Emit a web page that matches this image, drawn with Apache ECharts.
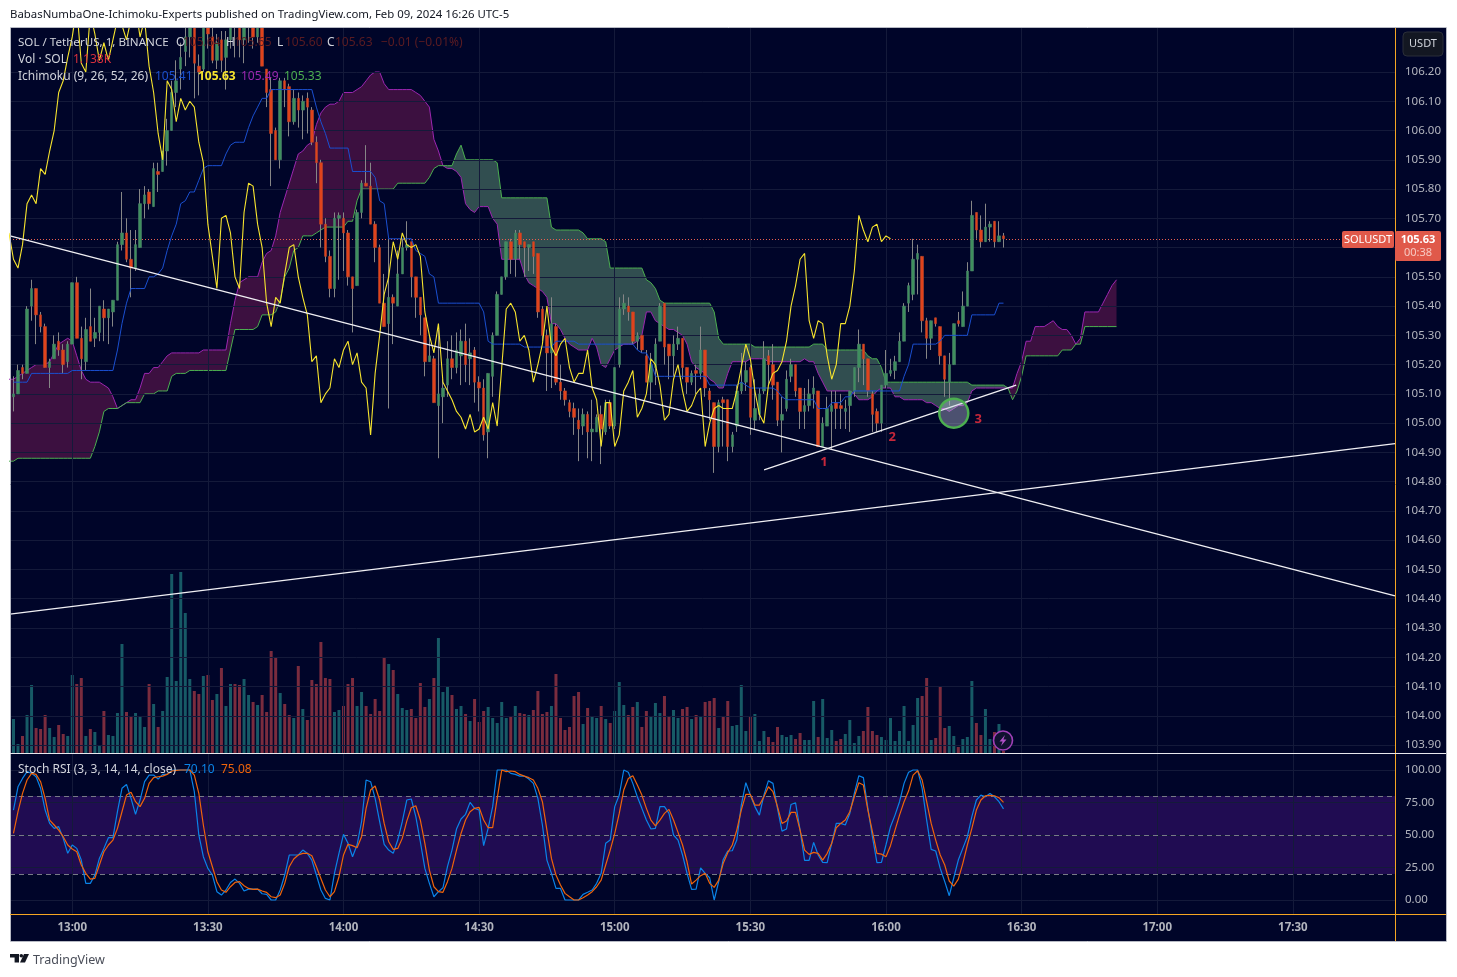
<!DOCTYPE html>
<html><head><meta charset="utf-8">
<style>html,body{margin:0;padding:0;background:#fff}#c{width:1457px;height:977px}</style>
<script src="https://cdn.jsdelivr.net/npm/echarts@6/dist/echarts.min.js"></script>
</head><body><div id="c"></div>
<script>
const firstMinute = 767; // 12:47, minutes after midnight
const axisStart = 766.23, axisEnd = 1072.6;
const timeTicks = [780,810,840,870,900,930,960,990,1020,1050];
const priceTicks = [103.9,104,104.1,104.2,104.3,104.4,104.5,104.6,104.7,104.8,104.9,105,105.1,105.2,105.3,105.4,105.5,105.6,105.7,105.8,105.9,106,106.1,106.2];
const stochTicks = [0,25,50,75,100];
const lastPrice = 105.63;
const opens = [
105.09,105.10,105.19,105.17,105.40,105.46,105.37,105.33,105.19,105.22,
105.28,105.25,105.21,105.27,105.48,105.29,105.21,105.33,105.29,105.31,
105.39,105.36,105.38,105.42,105.61,105.65,105.56,105.53,105.60,105.75,
105.79,105.74,105.86,105.86,105.93,106.00,106.13,106.21,106.27,106.32,
106.42,106.22,106.21,106.40,106.32,106.24,106.31,106.25,106.31,106.38,
106.36,106.31,106.38,106.42,106.32,106.38,106.21,106.14,106.00,105.90,
106.17,106.15,106.03,106.11,106.07,106.11,106.07,105.96,105.89,105.68,
105.57,105.46,105.70,105.70,105.65,105.50,105.47,105.72,105.82,105.81,
105.68,105.60,105.41,105.34,105.43,105.40,105.51,105.60,105.62,105.50,
105.43,105.36,105.21,105.22,105.06,105.09,105.13,105.22,105.19,105.23,
105.28,105.22,105.25,105.14,105.12,104.97,105.16,105.30,105.44,105.50,
105.62,105.56,105.65,105.62,105.60,105.62,105.58,105.39,105.30,105.24,
105.33,105.14,105.11,105.07,105.05,105.01,104.99,105.03,104.97,104.97,
105.03,104.97,105.07,104.99,105.20,105.39,105.40,105.38,105.28,105.30,
105.23,105.14,105.19,105.28,105.41,105.27,105.23,105.27,105.29,105.19,
105.14,105.18,105.17,105.25,105.11,105.07,104.92,105.08,105.08,104.92,
104.99,105.11,105.14,105.19,105.01,105.03,105.11,105.23,105.20,105.14,
105.01,105.05,105.16,105.20,105.12,105.04,105.06,105.10,105.11,104.92,
104.99,105.04,105.07,105.06,105.04,105.06,105.11,105.19,105.27,105.22,
105.10,105.04,105.00,105.13,105.17,105.18,105.21,105.28,105.41,105.44,
105.56,105.57,105.35,105.29,105.36,105.33,105.23,105.14,105.20,105.35,
105.33,105.40,105.52,105.72,105.66,105.62,105.67,105.69,105.62,105.64];
const closes = [
105.10,105.18,105.17,105.39,105.46,105.37,105.33,105.19,105.21,105.27,
105.25,105.20,105.27,105.48,105.29,105.22,105.32,105.28,105.31,105.40,
105.36,105.39,105.42,105.61,105.65,105.56,105.53,105.61,105.75,105.78,
105.75,105.87,105.85,105.93,106.00,106.13,106.17,106.25,106.32,106.42,
106.23,106.20,106.40,106.33,106.24,106.30,106.24,106.31,106.38,106.36,
106.31,106.38,106.42,106.32,106.38,106.22,106.13,105.99,105.90,106.17,
106.14,106.03,106.11,106.07,106.10,106.08,105.96,105.89,105.68,105.57,
105.46,105.70,105.71,105.65,105.50,105.46,105.72,105.82,105.81,105.68,
105.60,105.41,105.33,105.43,105.41,105.51,105.60,105.61,105.50,105.43,
105.37,105.21,105.23,105.07,105.10,105.12,105.22,105.19,105.25,105.28,
105.20,105.24,105.14,105.12,104.96,105.17,105.30,105.44,105.50,105.62,
105.56,105.65,105.61,105.60,105.61,105.57,105.38,105.30,105.24,105.34,
105.14,105.11,105.08,105.04,105.02,104.98,105.03,104.97,104.98,105.02,
104.98,105.07,104.99,105.19,105.39,105.41,105.38,105.28,105.30,105.25,
105.14,105.20,105.27,105.40,105.26,105.23,105.27,105.29,105.19,105.14,
105.17,105.17,105.25,105.12,105.08,104.92,105.07,105.07,104.92,104.96,
105.11,105.14,105.18,105.02,105.05,105.10,105.22,105.20,105.13,105.01,
105.03,105.15,105.20,105.11,105.04,105.06,105.10,105.12,104.92,105.00,
105.05,105.06,105.05,105.05,105.05,105.11,105.19,105.27,105.22,105.11,
105.03,105.00,105.13,105.17,105.18,105.21,105.28,105.40,105.47,105.56,
105.58,105.35,105.29,105.35,105.34,105.23,105.15,105.20,105.34,105.34,
105.40,105.52,105.71,105.66,105.62,105.67,105.68,105.62,105.64,105.63];
const highs = [
105.16,105.20,105.20,105.40,105.49,105.46,105.38,105.34,105.22,105.30,
105.31,105.27,105.28,105.48,105.50,105.33,105.36,105.46,105.36,105.40,
105.42,105.39,105.42,105.62,105.79,105.70,105.66,105.66,105.80,105.81,
105.80,105.89,105.89,105.93,106.04,106.17,106.24,106.30,106.40,106.48,
106.45,106.26,106.46,106.43,106.36,106.33,106.34,106.34,106.42,106.43,
106.40,106.42,106.46,106.44,106.41,106.42,106.21,106.18,106.01,106.18,
106.18,106.16,106.14,106.13,106.12,106.13,106.08,105.98,105.90,105.70,
105.59,105.72,105.72,105.72,105.66,105.50,105.73,105.83,105.95,105.89,
105.69,105.61,105.51,105.63,105.44,105.59,105.63,105.69,105.62,105.50,
105.43,105.36,105.30,105.23,105.32,105.15,105.28,105.30,105.31,105.32,
105.34,105.29,105.26,105.16,105.15,105.17,105.31,105.45,105.50,105.62,
105.63,105.66,105.66,105.62,105.61,105.62,105.58,105.40,105.32,105.43,
105.34,105.20,105.12,105.08,105.07,105.05,105.05,105.04,105.08,105.03,
105.06,105.08,105.08,105.19,105.43,105.44,105.43,105.38,105.31,105.30,
105.25,105.24,105.29,105.41,105.41,105.27,105.30,105.33,105.29,105.19,
105.18,105.20,105.33,105.25,105.12,105.07,105.08,105.09,105.08,104.97,
105.13,105.24,105.21,105.20,105.15,105.12,105.28,105.25,105.27,105.14,
105.09,105.18,105.22,105.20,105.12,105.12,105.15,105.16,105.11,105.02,
105.09,105.11,105.11,105.10,105.08,105.11,105.19,105.32,105.27,105.22,
105.11,105.05,105.13,105.25,105.22,105.23,105.31,105.41,105.48,105.63,
105.61,105.57,105.36,105.35,105.36,105.33,105.23,105.24,105.34,105.38,
105.45,105.55,105.76,105.72,105.71,105.75,105.69,105.69,105.69,105.65];
const lows = [
105.04,105.10,105.15,105.17,105.35,105.27,105.31,105.19,105.12,105.22,
105.23,105.17,105.19,105.27,105.29,105.15,105.18,105.28,105.26,105.28,
105.28,105.27,105.33,105.42,105.59,105.55,105.43,105.52,105.60,105.70,
105.73,105.74,105.79,105.86,105.88,106.00,106.08,106.14,106.22,106.25,
106.11,106.12,106.20,106.28,106.23,106.21,106.20,106.14,106.28,106.25,
106.25,106.23,106.30,106.28,106.30,106.22,106.08,105.81,105.90,105.87,
106.08,105.98,106.02,106.01,105.97,105.99,105.95,105.82,105.60,105.55,
105.43,105.43,105.49,105.52,105.47,105.31,105.47,105.70,105.81,105.68,
105.55,105.41,105.33,105.05,105.27,105.40,105.51,105.59,105.43,105.36,
105.30,105.16,105.21,105.07,104.88,105.00,105.09,105.15,105.17,105.13,
105.14,105.13,105.07,105.04,104.94,104.88,105.09,105.30,105.44,105.49,
105.51,105.50,105.56,105.50,105.52,105.51,105.36,105.28,105.11,105.12,
105.13,105.08,105.06,105.02,104.96,104.87,104.96,104.88,104.87,104.97,
104.86,104.96,104.98,104.98,105.19,105.37,105.35,105.27,105.25,105.24,
105.14,105.08,105.13,105.28,105.20,105.15,105.16,105.25,105.15,105.10,
105.13,105.10,105.15,105.09,105.01,104.83,104.90,104.92,104.87,104.90,
104.97,105.10,105.11,104.96,104.98,105.01,105.10,105.13,105.08,104.99,
104.90,105.04,105.14,105.09,104.98,104.98,105.04,105.05,104.92,104.92,
104.99,104.91,104.98,104.98,104.98,104.97,105.09,105.14,105.13,105.09,
104.97,104.97,104.97,105.12,105.16,105.15,105.21,105.28,105.38,105.42,
105.44,105.31,105.22,105.25,105.33,105.20,105.09,105.06,105.20,105.33,
105.33,105.40,105.52,105.63,105.60,105.62,105.62,105.60,105.62,105.60];
const volumes = [
34,9,17,38,68,25,24,38,25,16,28,19,17,78,69,75,17,24,21,8,
42,18,17,40,109,41,37,40,36,26,69,49,26,42,76,179,72,181,140,74,
62,59,77,78,53,59,85,47,69,69,68,74,58,51,48,58,41,102,95,60,
49,38,35,87,44,33,73,69,111,75,74,41,43,47,69,75,47,61,47,39,
54,42,95,89,83,59,45,43,44,35,70,46,54,75,115,61,66,58,44,47,
39,32,54,31,42,46,35,30,51,35,37,47,40,39,38,43,62,39,41,47,
79,35,23,26,57,61,29,45,36,35,47,34,30,42,71,48,38,46,51,26,
42,36,50,40,57,36,43,35,44,46,34,38,37,51,52,55,25,37,52,27,
28,68,22,36,39,12,22,16,11,26,18,16,18,14,20,13,13,52,16,54,
15,23,12,14,19,33,10,17,22,46,22,18,16,13,35,12,22,47,12,28,
55,57,75,13,15,67,25,27,17,6,14,16,72,30,18,44,14,21,29,2];
const kijun = [
105.14,105.14,105.14,105.14,105.17,105.17,105.17,105.17,105.17,105.17,
105.17,105.17,105.17,105.18,105.18,105.18,105.18,105.18,105.18,105.18,
105.18,105.18,105.18,105.25,105.34,105.41,105.46,105.46,105.46,105.46,
105.50,105.50,105.51,105.53,105.59,105.64,105.68,105.75,105.76,105.79,
105.79,105.83,105.87,105.88,105.88,105.88,105.88,105.92,105.95,105.96,
105.96,105.96,106.01,106.05,106.08,106.11,106.11,106.14,106.14,106.14,
106.14,106.14,106.14,106.14,106.14,106.14,106.14,106.08,106.03,105.99,
105.94,105.94,105.94,105.94,105.94,105.86,105.86,105.86,105.86,105.86,
105.84,105.76,105.75,105.63,105.63,105.63,105.63,105.63,105.63,105.59,
105.58,105.57,105.51,105.50,105.41,105.41,105.41,105.41,105.41,105.41,
105.41,105.41,105.41,105.41,105.38,105.28,105.27,105.27,105.27,105.27,
105.27,105.27,105.27,105.26,105.26,105.26,105.26,105.26,105.26,105.26,
105.28,105.28,105.28,105.28,105.28,105.27,105.27,105.27,105.27,105.27,
105.27,105.27,105.27,105.27,105.27,105.27,105.27,105.27,105.25,105.24,
105.24,105.21,105.16,105.16,105.16,105.16,105.16,105.16,105.16,105.16,
105.16,105.16,105.16,105.16,105.13,105.13,105.13,105.13,105.13,105.13,
105.13,105.14,105.13,105.12,105.12,105.12,105.12,105.12,105.12,105.11,
105.09,105.08,105.08,105.08,105.08,105.08,105.08,105.08,105.05,105.05,
105.05,105.07,105.07,105.07,105.09,105.09,105.11,105.11,105.11,105.11,
105.11,105.11,105.11,105.11,105.11,105.11,105.11,105.16,105.20,105.27,
105.27,105.27,105.27,105.27,105.27,105.28,105.30,105.30,105.30,105.30,
105.30,105.30,105.37,105.37,105.37,105.37,105.37,105.37,105.41,105.41];
const cloudStart = 766; // one minute before the first bar
const senkouA = [105.15,
105.15,105.16,105.17,105.18,105.19,105.20,105.20,105.20,105.21,105.24,
105.27,105.28,105.29,105.28,105.23,105.18,105.15,105.14,105.14,105.14,
105.13,105.12,105.09,105.05,105.06,105.07,105.08,105.08,105.12,105.17,
105.17,105.19,105.19,105.21,105.23,105.24,105.24,105.24,105.24,105.24,
105.24,105.24,105.25,105.25,105.25,105.25,105.25,105.25,105.34,105.42,
105.48,105.49,105.50,105.50,105.50,105.55,105.58,105.59,105.64,105.72,
105.77,105.82,105.87,105.92,105.93,105.95,105.96,106.02,106.06,106.08,
106.09,106.09,106.10,106.13,106.13,106.13,106.14,106.15,106.17,106.19,
106.20,106.20,106.16,106.14,106.14,106.14,106.14,106.14,106.14,106.13,
106.12,106.10,106.08,105.97,105.93,105.88,105.87,105.87,105.86,105.84,
105.75,105.73,105.72,105.74,105.74,105.74,105.70,105.68,105.56,105.56,
105.56,105.56,105.56,105.51,105.48,105.47,105.46,105.45,105.43,105.34,
105.34,105.32,105.29,105.27,105.26,105.25,105.25,105.25,105.29,105.26,
105.20,105.19,105.22,105.25,105.26,105.27,105.27,105.27,105.28,105.30,
105.38,105.38,105.35,105.34,105.33,105.32,105.32,105.31,105.30,105.27,
105.21,105.19,105.18,105.17,105.15,105.14,105.12,105.12,105.17,105.21,
105.21,105.21,105.21,105.22,105.22,105.22,105.22,105.21,105.21,105.21,
105.21,105.21,105.21,105.21,105.21,105.22,105.21,105.21,105.17,105.14,
105.11,105.11,105.11,105.11,105.11,105.11,105.10,105.08,105.08,105.08,
105.09,105.11,105.12,105.12,105.12,105.09,105.09,105.08,105.08,105.08,
105.08,105.08,105.07,105.07,105.06,105.05,105.05,105.04,105.05,105.06,
105.06,105.07,105.11,105.12,105.12,105.12,105.12,105.12,105.12,105.12,
105.12,105.12,105.17,105.21,105.28,105.28,105.33,105.33,105.33,105.34,
105.35,105.33,105.32,105.32,105.30,105.27,105.29,105.38,105.38,105.38,
105.38,105.41,105.44,105.47,105.49];
const senkouB = [104.87,
104.87,104.88,104.88,104.88,104.88,104.88,104.88,104.88,104.88,104.88,
104.88,104.88,104.88,104.88,104.88,104.88,104.88,104.88,104.92,104.97,
105.04,105.05,105.05,105.05,105.06,105.07,105.07,105.07,105.07,105.10,
105.10,105.10,105.11,105.11,105.11,105.16,105.17,105.17,105.17,105.18,
105.18,105.18,105.18,105.18,105.18,105.18,105.18,105.18,105.25,105.32,
105.32,105.32,105.32,105.32,105.33,105.37,105.37,105.37,105.38,105.42,
105.50,105.53,105.59,105.60,105.64,105.64,105.64,105.65,105.66,105.67,
105.67,105.67,105.67,105.67,105.69,105.69,105.76,105.80,105.80,105.80,
105.80,105.80,105.80,105.80,105.80,105.82,105.82,105.82,105.82,105.82,
105.82,105.82,105.84,105.87,105.88,105.88,105.88,105.88,105.92,105.95,
105.90,105.90,105.90,105.90,105.90,105.90,105.90,105.89,105.77,105.77,
105.77,105.77,105.77,105.77,105.77,105.77,105.77,105.77,105.77,105.67,
105.66,105.66,105.66,105.66,105.66,105.66,105.65,105.63,105.63,105.63,
105.63,105.62,105.53,105.53,105.53,105.53,105.53,105.53,105.53,105.53,
105.49,105.48,105.46,105.42,105.41,105.41,105.41,105.41,105.41,105.41,
105.41,105.41,105.41,105.41,105.41,105.38,105.29,105.27,105.27,105.27,
105.27,105.27,105.27,105.27,105.26,105.26,105.26,105.26,105.26,105.26,
105.26,105.26,105.26,105.26,105.26,105.26,105.26,105.27,105.27,105.27,
105.25,105.25,105.25,105.25,105.25,105.25,105.25,105.25,105.25,105.23,
105.22,105.22,105.19,105.14,105.14,105.14,105.14,105.14,105.14,105.14,
105.14,105.14,105.14,105.14,105.14,105.14,105.14,105.14,105.14,105.14,
105.14,105.14,105.13,105.13,105.13,105.13,105.13,105.13,105.13,105.13,
105.12,105.08,105.11,105.16,105.23,105.23,105.23,105.23,105.23,105.23,
105.23,105.23,105.25,105.25,105.25,105.27,105.27,105.33,105.33,105.33,
105.33,105.33,105.33,105.33,105.33];
const stochK = [
69.2,87.1,93.5,98.7,97.4,94.8,85.9,69.2,58.9,55.1,56.4,47.4,35.9,42.3,39.7,30.7,12.8,12.8,19.2,32,
39.7,47.9,47.9,67.9,85.9,88.9,78.2,65.9,76.9,91,96.1,96.1,93,96.6,96.6,99.7,100,100,100,100,
83.3,50,33.3,24.3,19.2,6.4,3.8,7.7,13.5,16.1,12.8,6.9,8.4,8.4,8.4,4.8,4.3,0,0,7.7,
19.2,34.6,34.6,34.6,38.4,35.9,30.7,19.2,7.7,1.2,0,20.5,35.9,50.5,43.6,33.3,42.3,60.2,92.3,91,
78.2,60.2,42.8,38.4,35.9,46.1,60.2,76.9,77.7,64.1,44.8,24.3,12.8,2.5,6.4,9.4,25.6,38.4,54.6,62.3,
65.9,75.1,70.5,69.2,41.8,55.1,71.8,100,100,100,97.4,96.6,95.3,95.3,93,89.7,78.2,57.7,30.7,20.5,
8.9,8.9,0,0,0,0,4.3,5.9,7.7,12.8,20.5,43.6,46.1,71.8,80.7,100,98.2,89.7,79.4,70.5,
61.5,54.6,55.1,71.8,71.8,66.6,50,46.1,34.6,20.5,8.2,8.4,24.8,20.5,17.1,0,14.1,31.2,37.7,37.9,
46.1,73,90.2,80.7,71.8,65.3,80.7,91.8,89.7,70.5,53,54.6,73.5,74.8,53.8,30.5,30.5,44.3,34.6,28.9,
28.7,43.6,58.9,58.9,57.7,66.6,82,95.6,94.1,70.5,48.7,28.7,28.9,42.3,56.4,65.3,75.6,89.7,98.2,100,
100,85.9,61.5,38.9,37.7,24.3,14.1,3.3,17.1,30.7,39.7,48.7,64.1,76.9,80.7,79.4,82,79.4,75.6,70.1];
const stochD = [
51.2,67.9,82,92.3,97.4,96.6,91,78.2,61.5,57.7,53.8,48.7,42.3,39.2,37.1,26.9,20.5,16.1,16.6,26.9,
37.1,42.3,46.1,55.1,67.9,80.7,82.8,75.6,71.8,78.2,89.7,94.1,94.8,95.3,96.6,99.2,99.7,100,100,100,
96.1,82,57.7,37.1,25.6,14.1,7.7,5.9,10.2,13.5,14.1,11,8.9,8.2,8.4,6.9,5.9,2.5,1.8,3.8,
12.8,25.6,31.5,34.6,35.9,35.9,34.1,25.6,16.6,7.7,2.5,6.4,17.9,34.6,42.8,41.8,40.2,48.7,70.5,84.6,
87.7,76.9,58.9,44.8,38.9,39.7,47.4,60.7,71,72.5,61.5,43.6,23,10.2,6.4,5.9,14.1,24.3,38.4,51.2,
61.5,67.9,70.5,71.2,61.5,55.6,55.6,78.2,100,98.7,99.2,98.7,96.6,95.3,94.1,92.3,85.9,75.6,53.8,32,
19.2,11.5,5.1,2.5,0,0,1.8,3.8,6.4,10.2,15.3,26.9,38.4,51.2,66.6,84.6,93.5,95.6,88.4,80.7,
70.5,61.5,57.1,61.5,66.6,69.7,61.5,52,42.3,29.4,12.3,15.3,18.7,20.5,12.8,9.7,15.3,28.2,36.4,42.3,
53.8,69.2,81.2,81.2,73,73,79.4,87.1,83.3,71.8,58.9,60.7,67.4,67.4,53.8,38.4,35.1,36.6,35.9,30.7,
35.9,43.6,55.6,58.9,61.5,67.9,79.4,90.2,88.4,69.2,52.5,35.9,35.3,33.3,41.8,53.8,65.3,75.6,83.8,96.1,
99.4,92.3,75.6,58.9,46.1,34.6,26.9,14.6,10.7,16.1,28.2,42.3,55.1,69.2,76.9,80.2,80.5,80.2,78.7,75.1];
const trendDown = [[766.23,105.64],[1072.6,104.41]];
const trendUpLong = [[766.23,104.347],[1072.6,104.93]];
const trendUpShort = [[933.04,104.84],[988.8,105.13]];
const touchCircle = [[975,105.034]];
const touchLabels = [[946.3,104.866,'1'],[961.4,104.95,'2'],[980.4,105.013,'3']];

const C = {bg:'#000529',grid:'#141a3a',txt:'#b2b5be',leg:'#d1d4dc',up:'#3f8f5e',down:'#e0431c',wick:'#868686',
  volUp:'#175a66',volDown:'#7a2c3e',blue:'#1a4fd0',yellow:'#f7e52e',purple:'#9c27b0',green:'#4caf50',
  cloudP:'#3c1040',cloudG:'#314e50',band:'#200c52',k:'#0a84e8',d:'#f0640a',orange:'#f5a623',red:'#e0594a'};
const fontF = '"Noto Sans",sans-serif';
const hhmm = v => { const h=Math.floor(v/60), m=Math.round(v-h*60); return String(h).padStart(2,'0')+':'+String(m).padStart(2,'0'); };
const bars = opens.map((o,i)=>[firstMinute+i,o,closes[i],lows[i],highs[i]]);
const bodies = opens.map((o,i)=>[firstMinute+i,o,closes[i],Math.min(o,closes[i]),Math.max(o,closes[i])]);
const volData = volumes.map((v,i)=>({value:[firstMinute+i,v],itemStyle:{color:closes[i]>=opens[i]?C.volUp:C.volDown}}));
const line = (name,data,color,width,extra) => Object.assign({name,type:'line',data,showSymbol:false,symbol:'none',
  lineStyle:{color,width},itemStyle:{color},silent:true,animation:false,clip:true,z:6,xAxisIndex:0,yAxisIndex:0},extra||{});
const gridLines = (vals,axisKey,xi,yi) => ({type:'line',data:[],xAxisIndex:xi,yAxisIndex:yi,z:1,silent:true,animation:false,
  markLine:{silent:true,symbol:'none',animation:false,label:{show:false},lineStyle:{color:C.grid,width:1,type:'solid'},
    data:vals.map(v=>({[axisKey]:v}))}});
function cloudRuns(){
  const runs=[];let cur=null;
  for(let i=0;i<senkouA.length-1;i++){
    const x0=cloudStart+i,x1=x0+1,a0=senkouA[i],a1=senkouA[i+1],b0=senkouB[i],b1=senkouB[i+1];
    const d0=a0-b0,d1=a1-b1;
    if(d0*d1<0){
      const t=d0/(d0-d1),xc=x0+t,yc=a0+(a1-a0)*t;
      if(!cur||cur.up!==(d0>0)){ if(cur)runs.push(cur); cur={up:d0>0,a:[[x0,a0]],b:[[x0,b0]]}; }
      cur.a.push([xc,yc]);runs.push(cur);
      cur={up:d1>0,a:[[xc,yc],[x1,a1]],b:[[x1,b1]]};
    } else {
      const up=d0+d1>=0;
      if(!cur||cur.up!==up){ if(cur)runs.push(cur); cur={up,a:[[x0,a0]],b:[[x0,b0]]}; }
      cur.a.push([x1,a1]);cur.b.push([x1,b1]);
    }
  }
  if(cur)runs.push(cur);
  return runs;
}
function cloudItem(params,api){
  if(params.dataIndex!==0) return null;
  return {type:'group',children:cloudRuns().map(r=>({type:'polygon',
    shape:{points:r.a.concat(r.b.slice().reverse()).map(p=>api.coord(p))},
    style:{fill:r.up?C.cloudP:C.cloudG}}))};
}
const T=(text,x,y,fill,o)=>({type:'text',silent:true,z:50,style:Object.assign({text,x,y,fill,font:'12px '+fontF,verticalAlign:'middle'},o||{})});
const L=(x1,y1,x2,y2,stroke,w)=>({type:'line',silent:true,z:45,shape:{x1,y1,x2,y2},style:{stroke,lineWidth:w||1}});
const graphics=[
  {type:'rect',silent:true,z:-10,shape:{x:10,y:28,width:1436,height:913},style:{fill:C.bg}},
  {type:'rect',silent:true,z:40,shape:{x:0,y:0,width:1457,height:27},style:{fill:'#ffffff'}},
  {type:'rect',silent:true,z:45,shape:{x:10.5,y:27.5,width:1436,height:914},style:{fill:'none',stroke:'#b7bac4',lineWidth:1}},
  L(1395.5,28,1395.5,941,C.orange),L(10,914.5,1446,914.5,C.orange),L(10,753.5,1446,753.5,'#e8e8ee'),
  T('BabasNumbaOne-Ichimoku-Experts published on TradingView.com, Feb 09, 2024 16:26 UTC-5',10,15,'#131722',{font:'11.4px '+fontF}),
  T('SOL / TetherUS, 1, BINANCE',18,43,C.leg,{font:'11.6px '+fontF}),T('O',176,43,C.leg),T('105.64',183,43,'#5a1c22'),
  T('H',226,43,C.leg),T('105.65',234,43,'#5a1c22'),T('L',277,43,C.leg),T('105.60',285,43,'#5a1c22'),
  T('C',327,43,C.leg),T('105.63',335,43,'#5a1c22'),T('−0.01 (−0.01%)',381,43,'#5a1c22'),
  T('Vol · SOL',18,60,C.leg),T('1.138K',73,60,'#d8303c'),
  T('Ichimoku (9, 26, 52, 26)',18,77,C.leg),T('105.41',155,77,C.blue),T('105.63',198,77,C.yellow,{font:'bold 12px '+fontF}),
  T('105.49',241,77,C.purple),T('105.33',284,77,C.green),
  T('Stoch RSI (3, 3, 14, 14, close)',18,770,C.leg),T('70.10',184,770,C.k),T('75.08',221,770,C.d),
  {type:'rect',silent:true,z:48,shape:{x:1403,y:32,width:40,height:24,r:4},style:{fill:'#131722',stroke:'#2a2e39',lineWidth:1}},
  T('USDT',1423,44,'#d1d4dc',{align:'center',font:'11px '+fontF}),
  {type:'rect',silent:true,z:48,shape:{x:1342,y:231,width:52,height:17,r:2},style:{fill:C.red}},
  T('SOLUSDT',1368,240,'#fff',{align:'center',font:'11px '+fontF}),
  {type:'rect',silent:true,z:48,shape:{x:1395,y:231,width:46,height:30,r:2},style:{fill:C.red}},
  T('105.63',1418,240,'#fff',{align:'center',font:'bold 11px '+fontF}),
  T('00:38',1418,253,'#f7c9c2',{align:'center',font:'11px '+fontF}),
  {type:'circle',silent:true,z:48,shape:{cx:1003,cy:740.5,r:9.5},style:{fill:'#101230',stroke:'#a040b8',lineWidth:1.6}},
  {type:'polygon',silent:true,z:49,shape:{points:[[1005,735],[999.5,741.5],[1002.6,741.5],[1001,746],[1006.5,739.5],[1003.4,739.5]]},style:{fill:'#b050c8'}},
  {type:'polygon',silent:true,z:50,shape:{points:[[10,954],[19,954],[19,962.5],[14.6,962.5],[14.6,957.6],[10,957.6]]},style:{fill:'#131722'}},
  {type:'circle',silent:true,z:50,shape:{cx:21.3,cy:955.8,r:1.8},style:{fill:'#131722'}},
  {type:'polygon',silent:true,z:50,shape:{points:[[24,954],[29,954],[25,962.5],[20,962.5]]},style:{fill:'#131722'}},
  T('TradingView',33,960,'#4a4e59',{font:'12.5px '+fontF})
];
const option={
  animation:false,backgroundColor:'#ffffff',
  grid:[{left:10,top:28,width:1385,height:725,show:false},
        {left:10,top:754,width:1385,height:160,show:false}],
  xAxis:[
    {type:'value',gridIndex:0,min:axisStart,max:axisEnd,show:false,splitLine:{show:false}},
    {type:'value',gridIndex:1,min:axisStart,max:axisEnd,axisLine:{show:false},axisTick:{show:false},splitLine:{show:false},
      axisLabel:{customValues:timeTicks,formatter:hhmm,color:C.txt,fontSize:11.5,fontWeight:'bold',margin:8,fontFamily:fontF,hideOverlap:false}}
  ],
  yAxis:[
    {type:'value',gridIndex:0,position:'right',min:103.8727,max:106.3504,axisLine:{show:false},axisTick:{show:false},splitLine:{show:false},
      axisLabel:{customValues:priceTicks,formatter:v=>v.toFixed(2),color:C.txt,fontSize:11.5,margin:10,padding:[2,0,0,0],fontFamily:fontF}},
    {type:'value',gridIndex:0,min:0,max:725,show:false,splitLine:{show:false}},
    {type:'value',gridIndex:1,position:'right',min:-10.77,max:112.3,axisLine:{show:false},axisTick:{show:false},splitLine:{show:false},
      axisLabel:{customValues:stochTicks,formatter:v=>v.toFixed(2),color:C.txt,fontSize:11.5,margin:10,padding:[2,0,0,0],fontFamily:fontF}}
  ],
  graphic:{elements:graphics},
  series:[
    gridLines(timeTicks,'xAxis',0,0),gridLines(priceTicks,'yAxis',0,0),
    gridLines(timeTicks,'xAxis',1,2),gridLines(stochTicks,'yAxis',1,2),
    {name:'Volume',type:'bar',data:volData,xAxisIndex:0,yAxisIndex:1,barWidth:3,z:2,silent:true,animation:false},
    {name:'Cloud',type:'custom',renderItem:cloudItem,data:[[cloudStart,senkouA[0]]],encode:{x:0,y:1},clip:true,z:3,silent:true,animation:false,xAxisIndex:0,yAxisIndex:0},
    line('Leading A',senkouA.map((v,i)=>[cloudStart+i,v]),C.purple,1,{z:4}),
    line('Leading B',senkouB.map((v,i)=>[cloudStart+i,v]),C.green,1,{z:4}),
    {name:'SOLUSDT',type:'candlestick',data:bars,xAxisIndex:0,yAxisIndex:0,barWidth:1,z:5,silent:true,animation:false,clip:true,
      itemStyle:{color:C.wick,color0:C.wick,borderColor:C.wick,borderColor0:C.wick,borderWidth:1}},
    {name:'Bodies',type:'candlestick',data:bodies,xAxisIndex:0,yAxisIndex:0,barWidth:3,z:5,silent:true,animation:false,clip:true,
      itemStyle:{color:C.up,color0:C.down,borderColor:'#4a7f68',borderColor0:'#b8452a',borderWidth:0.6}},
    line('Base',kijun.map((v,i)=>[firstMinute+i,v]),C.blue,1),
    line('Lagging',closes.slice(24).map((v,i)=>[firstMinute+i-1,v]),C.yellow,1.1,{z:7}),
    Object.assign(line('LastPrice',[],C.red,1),{markLine:{silent:true,symbol:'none',animation:false,label:{show:false},
      lineStyle:{color:'#e8604f',width:1,type:[1,2]},data:[{yAxis:lastPrice}]}}),
    line('T1',trendDown,'#f0f0f4',1.3,{z:8}),
    line('T2',trendUpLong,'#f0f0f4',1.3,{z:8}),
    line('T3',trendUpShort,'#f0f0f4',1.3,{z:8}),
    {name:'Touch',type:'scatter',data:touchCircle,xAxisIndex:0,yAxisIndex:0,symbolSize:29,silent:true,z:9,animation:false,
      itemStyle:{color:'rgba(200,205,230,0.38)',borderColor:C.green,borderWidth:2.5,opacity:1}},
    {name:'Touches',type:'scatter',data:touchLabels,xAxisIndex:0,yAxisIndex:0,symbolSize:1,silent:true,z:9,animation:false,
      itemStyle:{color:'transparent'},label:{show:true,position:'inside',formatter:p=>p.data[2],color:'#f7303f',fontSize:13,fontWeight:'bold',fontFamily:fontF}},
    {name:'Band',type:'line',data:[],xAxisIndex:1,yAxisIndex:2,z:2,silent:true,animation:false,
      markArea:{silent:true,animation:false,itemStyle:{color:C.band},data:[[{yAxis:20},{yAxis:80}]]},
      markLine:{silent:true,symbol:'none',animation:false,label:{show:false},lineStyle:{color:'#787b86',width:1,type:[5,4]},data:[{yAxis:80},{yAxis:50},{yAxis:20}]}},
    line('Stoch K',stochK.map((v,i)=>[firstMinute+i,v]),C.k,1.2,{xAxisIndex:1,yAxisIndex:2}),
    line('Stoch D',stochD.map((v,i)=>[firstMinute+i,v]),C.d,1.2,{xAxisIndex:1,yAxisIndex:2,z:7})
  ]
};
const chart=echarts.init(document.getElementById('c'),null,{renderer:'canvas',width:1457,height:977});
chart.setOption(option);
</script></body></html>
